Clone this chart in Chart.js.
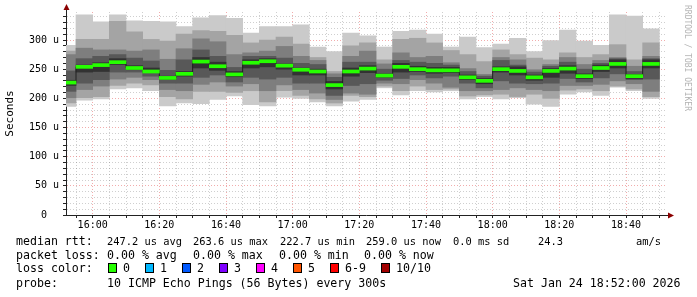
<!DOCTYPE html>
<html>
<head>
<meta charset="utf-8">
<script src="https://cdn.jsdelivr.net/npm/chart.js@4.4.1/dist/chart.umd.min.js"></script>
<style>
body { margin:0; background:#fff; }
#wrap { position:relative; width:697px; height:297px; overflow:hidden; }
#myChart { position:absolute; left:0; top:0; }
.lg { position:absolute; font-family:"DejaVu Sans Mono", monospace; font-size:11.6px; line-height:14px; color:#000; white-space:pre; }
.box { position:absolute; width:7px; height:8px; border:1px solid #000; }
#wm { position:absolute; left:692px; top:5px; font-family:"DejaVu Sans Mono", monospace; font-size:8px; line-height:9px; color:#b4b4b4; white-space:pre; transform:rotate(90deg); transform-origin:0 0; }
</style>
</head>
<body>
<div id="wrap">
  <canvas id="myChart" width="697" height="297"></canvas>
  <div id="wm">RRDTOOL / TOBI OETIKER</div>
</div>
<script>
// sample end times (5 min steps), 10 pings per sample sorted low -> high (in us)
var sampleTimes = ["15:55","16:00","16:05","16:10","16:15","16:20","16:25","16:30","16:35","16:40","16:45","16:50",
  "16:55","17:00","17:05","17:10","17:15","17:20","17:25","17:30","17:35","17:40","17:45","17:50",
  "17:55","18:00","18:05","18:10","18:15","18:20","18:25","18:30","18:35","18:40","18:45","18:50"];
var ping1  = [186,197,199,216,218,213,187,192,191,198,204,189,187,202,200,194,187,195,198,218,206,213,211,213,199,203,199,201,190,186,207,211,205,219,213,200];
var ping2  = [192,201,203,222,226,223,203,199,212,212,210,213,194,213,205,199,192,205,203,221,213,221,215,216,204,206,207,203,207,200,214,216,213,221,216,203];
var ping3  = [201,215,221,233,236,232,215,213,224,228,221,225,213,223,215,209,198,209,207,226,225,232,226,219,213,213,215,218,215,213,222,222,224,230,225,212];
var ping4  = [212,226,232,245,245,238,226,226,236,240,228,236,233,236,226,226,205,222,225,231,234,240,235,238,226,218,230,226,225,226,234,228,235,242,232,233];
var ping5  = [222,245,246,258,249,244,232,238,252,248,237,252,254,250,240,240,216,238,244,236,245,246,243,244,232,225,245,240,231,236,243,234,246,252,234,252];
var ping6  = [231,257,261,268,256,252,238,246,270,262,246,266,268,259,252,250,229,252,256,242,260,255,253,253,240,234,254,254,240,251,256,242,257,266,241,266];
var ping7  = [247,268,272,275,269,264,248,266,283,272,253,272,272,269,260,258,236,262,262,250,265,262,260,257,246,238,265,257,245,255,262,250,260,268,246,268];
var ping8  = [275,286,283,283,281,283,267,285,302,297,275,278,281,289,272,265,242,272,281,259,278,270,272,261,251,241,270,266,249,258,270,258,265,270,255,272];
var ping9  = [281,301,301,332,314,301,298,310,316,315,308,295,300,305,293,270,246,290,295,266,301,303,295,282,275,263,283,275,269,266,278,270,275,292,266,295];
var ping10 = [291,343,331,343,333,332,331,323,338,342,337,312,323,323,326,288,280,312,307,288,315,317,310,288,305,287,293,303,280,299,317,298,291,343,341,319];
var medianRtt = [227,254,257,262,252,246,235,242,263,255,241,261,263.6,256,249,246,222.7,246,251,239,254,250,248,248,236,230,250,247,236,247,251,238,252,259,238,259];

var xTickLabels = ["16:00","16:20","16:40","17:00","17:20","17:40","18:00","18:20","18:40"];
var yMajor = [0,50,100,150,200,250,300];
var yTickLabels = ["0  ","50 u","100 u","150 u","200 u","250 u","300 u"];

var lossLabels = ["0","1","2","3","4","5","6-9","10/10"];
var lossColors = ["#26ff00","#00b8ff","#0059ff","#7e00ff","#ff00ff","#ff5500","#ff0000","#a10000"];
var smokeColors = ["#cacaca","#a4a4a4","#7e7e7e","#585858","#323232"];

// [x, text, font size]
var legendLines = [
  [[16,"median rtt:",11.6],[107,"247.2 us avg",10.4],[193,"263.6 us max",10.4],[280,"222.7 us min",10.4],[366,"259.0 us now",10.4],[453,"0.0 ms sd",10.4],[538,"24.3",10.4],[636,"am/s",10.4]],
  [[16,"packet loss:",11.6],[107,"0.00 % avg",11.6],[193,"0.00 % max",11.6],[279,"0.00 % min",11.6],[364,"0.00 % now",11.6]],
  [[16,"loss color:",11.6]],
  [[16,"probe:",11.6],[107,"10 ICMP Echo Pings (56 Bytes) every 300s",11.6],[513,"Sat Jan 24 18:52:00 2026",11.6]]
];
var lossBoxX = [108,145,182,219,256,293,330,381];
var lineY = [234,248,261,276];

var graphStart = 15*60+52;   // 15:52
function toMin(t){
  var p = t.split(":");
  return parseInt(p[0],10)*60 + parseInt(p[1],10) - graphStart;
}

// legend (html text)
var wrap = document.getElementById("wrap");
legendLines.forEach(function(line, li){
  line.forEach(function(seg){
    var d = document.createElement("div");
    d.className = "lg";
    d.style.left = seg[0] + "px";
    d.style.top = lineY[li] + "px";
    d.style.fontSize = seg[2] + "px";
    d.textContent = seg[1];
    wrap.appendChild(d);
  });
});
lossLabels.forEach(function(lab, i){
  var b = document.createElement("div");
  b.className = "box";
  b.style.left = lossBoxX[i] + "px";
  b.style.top = (lineY[2] + 2) + "px";
  b.style.background = lossColors[i];
  wrap.appendChild(b);
  var d = document.createElement("div");
  d.className = "lg";
  d.style.left = (lossBoxX[i] + 15) + "px";
  d.style.top = lineY[2] + "px";
  d.textContent = lab;
  wrap.appendChild(d);
});

var pings = [ping1,ping2,ping3,ping4,ping5,ping6,ping7,ping8,ping9,ping10];
var datasets = [];
for (var k = 0; k < 5; k++) {
  var lo = pings[k], hi = pings[9-k];
  datasets.push({
    type: "bar",
    data: sampleTimes.map(function(t, i){ return {x: toMin(t) - 2.5, y: [lo[i], hi[i]]}; }),
    backgroundColor: smokeColors[k],
    borderWidth: 0,
    barPercentage: 1,
    categoryPercentage: 1,
    grouped: false,
    order: 10 - k
  });
}
// median step line
datasets.push({
  type: "line",
  data: sampleTimes.map(function(t, i){ return {x: toMin(t) - 2.5, y: medianRtt[i]}; }),
  borderColor: "#202020",
  borderWidth: 1,
  pointRadius: 0,
  stepped: "middle",
  order: 1
});
// median loss-colour band
datasets.push({
  type: "bar",
  data: sampleTimes.map(function(t, i){ return {x: toMin(t) - 2.5, y: [medianRtt[i] - 2.6, medianRtt[i] + 2.6]}; }),
  backgroundColor: lossColors[0],
  borderWidth: 0,
  barPercentage: 1,
  categoryPercentage: 1,
  grouped: false,
  order: 0
});

var axisArrows = {
  id: "axisArrows",
  afterDraw: function(chart){
    var a = chart.chartArea, c = chart.ctx;
    var x0 = Math.round(a.left) + 0.5, y0 = Math.round(a.bottom) + 0.5;
    c.save();
    c.strokeStyle = "#222";
    c.lineWidth = 1;
    c.beginPath();
    c.moveTo(x0, a.top); c.lineTo(x0, a.top - 3);
    c.moveTo(a.left - 3, y0); c.lineTo(a.left, y0);
    c.moveTo(a.right, y0); c.lineTo(a.right + 3, y0);
    c.stroke();
    c.fillStyle = "#8b0000";
    c.beginPath();
    c.moveTo(x0, a.top - 8); c.lineTo(x0 - 3, a.top - 2); c.lineTo(x0 + 3, a.top - 2); c.closePath(); c.fill();
    c.beginPath();
    c.moveTo(a.right + 8, y0); c.lineTo(a.right + 2, y0 - 3); c.lineTo(a.right + 2, y0 + 3); c.closePath(); c.fill();
    c.restore();
  }
};

var mono = "'DejaVu Sans Mono', monospace";
var majorGrid = "rgba(230,90,90,0.5)";
var minorGrid = "rgba(95,95,95,0.3)";

var mychart = new Chart("myChart", {
  data: { datasets: datasets },
  options: {
    responsive: false,
    animation: false,
    devicePixelRatio: 1,
    layout: { padding: { left: 0, top: 12, right: 31, bottom: 62 } },
    plugins: { legend: { display: false }, tooltip: { enabled: false } },
    scales: {
      x: {
        type: "linear",
        min: 0,
        max: 180,
        offset: false,
        z: 1,
        afterBuildTicks: function(scale){
          scale.ticks = sampleTimes.map(function(t){ return {value: toMin(t)}; });
        },
        afterFit: function(scale){ scale.height = 20; },
        ticks: {
          autoSkip: false,
          maxRotation: 0,
          padding: 1,
          color: "#000",
          font: { family: mono, size: 10 },
          callback: function(v){
            for (var i = 0; i < sampleTimes.length; i++) {
              if (toMin(sampleTimes[i]) === v && xTickLabels.indexOf(sampleTimes[i]) >= 0) return sampleTimes[i];
            }
            return "";
          }
        },
        grid: {
          offset: false,
          color: function(ctx){
            var v = ctx.tick ? ctx.tick.value : -1;
            for (var i = 0; i < sampleTimes.length; i++) {
              if (toMin(sampleTimes[i]) === v && xTickLabels.indexOf(sampleTimes[i]) >= 0) return majorGrid;
            }
            return minorGrid;
          },
          lineWidth: 1,
          drawTicks: true,
          tickLength: 3,
          tickColor: "#222",
          tickBorderDash: []
        },
        border: { display: true, color: "#222", width: 1, dash: [1, 2] }
      },
      y: {
        type: "linear",
        min: 0,
        max: 348,
        z: 1,
        afterBuildTicks: function(scale){
          var t = [];
          for (var v = 0; v <= 340; v += 10) t.push({value: v});
          scale.ticks = t;
        },
        afterFit: function(scale){ scale.width = 66; },
        title: {
          display: true,
          text: "Seconds",
          color: "#000",
          font: { family: mono, size: 11 },
          padding: { top: 4, bottom: 0 }
        },
        ticks: {
          autoSkip: false,
          padding: 4,
          color: "#000",
          font: { family: mono, size: 10 },
          callback: function(v){
            var i = yMajor.indexOf(v);
            return i >= 0 ? yTickLabels[i] : "";
          }
        },
        grid: {
          color: function(ctx){
            var v = ctx.tick ? ctx.tick.value : -1;
            return yMajor.indexOf(v) >= 0 ? majorGrid : minorGrid;
          },
          lineWidth: 1,
          drawTicks: true,
          tickLength: 3,
          tickColor: "#222",
          tickBorderDash: []
        },
        border: { display: true, color: "#222", width: 1, dash: [1, 2] }
      }
    }
  },
  plugins: [axisArrows]
});
</script>
</body>
</html>
